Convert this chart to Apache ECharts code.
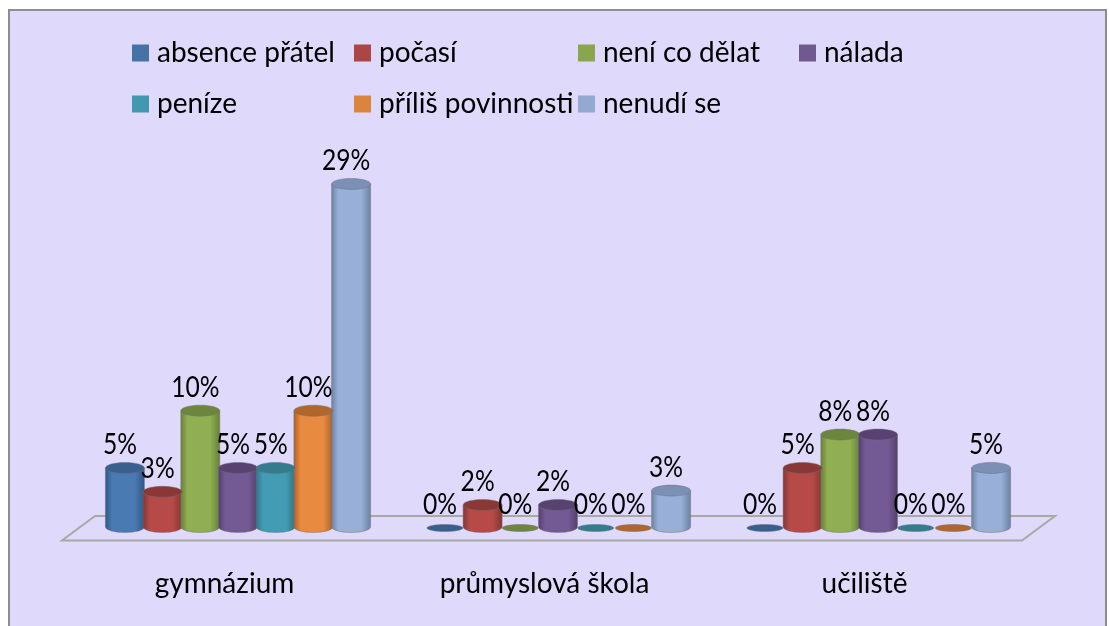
<!DOCTYPE html>
<html><head><meta charset="utf-8">
<style>html,body{margin:0;padding:0;background:#fff}#c{width:1109px;height:626px}</style>
<script src="https://cdn.jsdelivr.net/npm/echarts@6/dist/echarts.min.js"></script>
</head><body><div id="c"></div>
<script>
const categories = ['gymnázium','průmyslová škola','učiliště'];
const seriesNames = ['absence přátel','počasí','není co dělat','nálada','peníze','příliš povinnosti','nenudí se'];
const absencePratel = [5.2,0,0];
const pocasi = [3.2,2.1,5.2];
const neniCoDelat = [10,0,8];
const nalada = [5.2,2.1,8];
const penize = [5.2,0,0];
const prilisPovinnosti = [10,0,0];
const nenudiSe = [29,3.3,5.2];
const allValues = [absencePratel,pocasi,neniCoDelat,nalada,penize,prilisPovinnosti,nenudiSe];
const mids = ['#4a7ab2','#b54a47','#90ae52','#745a94','#429cb4','#e88a40','#98b0d8'];
const edges = ['#2f5684','#843432','#657e39','#523f6b','#2e7486','#a9602a','#6b7f9f'];
const tops = ['#37608e','#8a3835','#6c873d','#574272','#327c8e','#b0672b','#7a90b4'];
const legendColors = ['#4572a7','#aa4643','#89a54e','#71588f','#4198af','#db843d','#93a9cf'];
const legendPos = [[127,34],[349,34],[573,34],[794,34],[127,85],[349,85],[573,85]];
const FONT = 'Lato';

const chart = echarts.init(document.getElementById('c'), null, {renderer:'canvas'});
const series = seriesNames.map((name,si)=>({
  name, type:'custom', z:5, itemStyle:{color:legendColors[si]},
  data: allValues[si].map((v,i)=>[i,v]),
  encode:{x:0,y:1},
  renderItem:(params,api)=>{
    const band = api.size([1,0])[0];
    const step = band*0.1178;
    const pBase = api.coord([api.value(0),0]);
    const pTop = api.coord([api.value(0),api.value(1)]);
    const cx = pBase[0]+(si-3)*step;
    const rx = 19.5, ry = 5.5;
    const by = pBase[1]-3, ty = pTop[1];
    const v = api.value(1);
    const kids = [];
    if(v>0){
      kids.push({type:'path',z2:1,
        shape:{pathData:`M${cx-rx} ${ty}L${cx-rx} ${by}A${rx} ${ry} 0 0 0 ${cx+rx} ${by}L${cx+rx} ${ty}Z`},
        style:{fill:new echarts.graphic.LinearGradient(0,0,1,0,[
          {offset:0,color:edges[si]},{offset:.18,color:mids[si]},{offset:.75,color:mids[si]},{offset:1,color:edges[si]}]),
          stroke:'rgba(110,110,120,0.45)',lineWidth:1}});
    }
    kids.push({type:'ellipse',z2:2,shape:{cx,cy:v>0?ty:by+1,rx:v>0?rx:18,ry:v>0?ry:3.5},
      style:{fill:tops[si],stroke:'rgba(110,110,120,0.45)',lineWidth:1}});
    kids.push({type:'text',z2:20,x:cx-5,y:(v>0?ty:by+1)-23,scaleX:0.88,style:{
      text:Math.round(v)+'%',x:0,y:0,align:'center',verticalAlign:'middle',
      font:'28px '+FONT,fill:'#000'}});
    return {type:'group',children:kids};
  }
}));
chart.setOption({
  animation:false,
  backgroundColor:'#ffffff',
  graphic:[
    {type:'rect',z:0,shape:{x:9,y:10,width:1097,height:620},style:{fill:'#dfd9fb',stroke:'#8e8e8e',lineWidth:2}},
    {type:'polygon',z:1,shape:{points:[[62,540.5],[1022,540.5],[1055,516],[95,516]]},style:{fill:'none',stroke:'#a9a9a4',lineWidth:2}}
  ],
  grid:{left:78,width:960,top:172,height:358},
  xAxis:{type:'category',data:categories,axisLine:{show:false},axisTick:{show:false},
    axisLabel:{margin:40,fontFamily:FONT,fontSize:28,color:'#000',padding:[0,27,0,0]}},
  yAxis:{type:'value',min:0,max:30,show:false},
  legend:seriesNames.map((n,i)=>({data:[n],left:legendPos[i][0],top:legendPos[i][1],icon:'rect',itemWidth:17,itemHeight:17,
    selectedMode:false,textStyle:{fontFamily:FONT,fontSize:28,color:'#000',padding:[0,0,0,3]}})),
  series
});
</script></body></html>
